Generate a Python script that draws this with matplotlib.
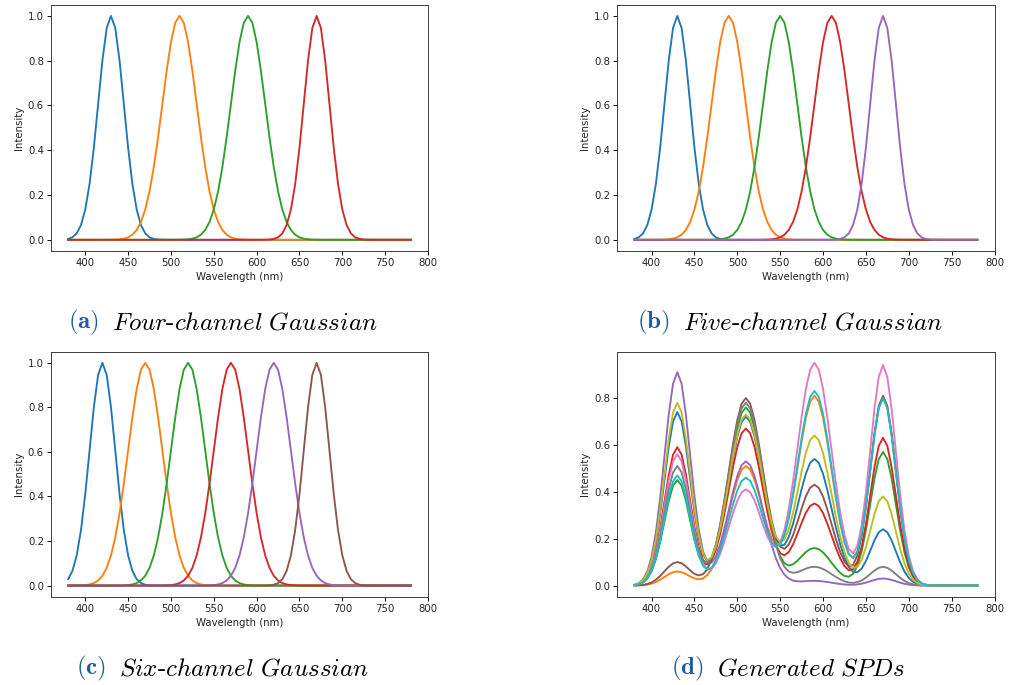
import numpy as np
import matplotlib
matplotlib.use("Agg")
import matplotlib.pyplot as plt

plt.rcParams["mathtext.fontset"] = "cm"

# Sampling grid (nm)
wavelengths = np.arange(380, 785, 5)

# Channel peak wavelengths (nm) and widths (sigma, nm)
four_centers = [430, 510, 590, 670]
four_sigmas = [15, 20, 20, 15]

five_centers = [430, 490, 550, 610, 670]
five_sigmas = [15, 20, 20, 20, 15]

six_centers = [420, 470, 520, 570, 620, 670]
six_sigmas = [15, 20, 20, 20, 20, 15]

# Generated SPDs: weight of each four-channel primary (one entry per SPD)
w430 = [0.74, 0.06, 0.45, 0.59, 0.91, 0.10, 0.56, 0.51, 0.78, 0.47]
w510 = [0.72, 0.51, 0.76, 0.67, 0.53, 0.80, 0.41, 0.78, 0.73, 0.46]
w590 = [0.54, 0.81, 0.16, 0.35, 0.02, 0.43, 0.95, 0.08, 0.64, 0.83]
w670 = [0.24, 0.80, 0.57, 0.63, 0.03, 0.81, 0.94, 0.08, 0.38, 0.80]

captions = [
    ("(a)", r"$\mathit{Four}\text{-}\mathit{channel\ Gaussian}$"),
    ("(b)", r"$\mathit{Five}\text{-}\mathit{channel\ Gaussian}$"),
    ("(c)", r"$\mathit{Six}\text{-}\mathit{channel\ Gaussian}$"),
    ("(d)", r"$\mathit{Generated\ SPDs}$"),
]


def gaussian_bank(centers, sigmas):
    c = np.asarray(centers, float)[:, None]
    s = np.asarray(sigmas, float)[:, None]
    return np.exp(-0.5 * ((wavelengths[None, :] - c) / s) ** 2)


W, H = 1014, 685
fig = plt.figure(figsize=(W / 100, H / 100), dpi=100)

scale = 0.73
lw = 1.35
fs = 10 * scale

boxes = [  # left, top, right, bottom in pixels
    (51, 4.7, 428, 251),
    (617.3, 4.7, 994.5, 251),
    (51, 351.7, 428, 596.7),
    (617.3, 351.7, 994.5, 596.7),
]
axes = []
for l, t, r, b in boxes:
    ax = fig.add_axes([l / W, 1 - b / H, (r - l) / W, (b - t) / H])
    for sp in ax.spines.values():
        sp.set_linewidth(0.9 * scale)
        sp.set_color("#333333")
    ax.tick_params(labelsize=fs, width=0.9 * scale, length=3.5 * scale,
                   pad=3.5 * scale, labelcolor="#222222")
    ax.set_xlabel("Wavelength (nm)", fontsize=fs, labelpad=4 * scale, color="#222222")
    ax.set_ylabel("Intensity", fontsize=fs, labelpad=4 * scale, color="#222222")
    ax.set_xticks(np.arange(400, 801, 50))
    axes.append(ax)

for ax, (cent, sig) in zip(axes[:3], [(four_centers, four_sigmas),
                                      (five_centers, five_sigmas),
                                      (six_centers, six_sigmas)]):
    bank = gaussian_bank(cent, sig)
    for row in bank:
        ax.plot(wavelengths, row, lw=lw)
    ax.set_xlim(360, 800)

primaries = gaussian_bank(four_centers, four_sigmas)
weights = np.array([w430, w510, w590, w670]).T
spds = weights @ primaries
for row in spds:
    axes[3].plot(wavelengths, row, lw=lw)
axes[3].set_xlim(360, 800)
axes[3].set_yticks([0.0, 0.2, 0.4, 0.6, 0.8])

# Sub-captions
fig.canvas.draw()
renderer = fig.canvas.get_renderer()
cap_pos = [(223, 322), (790, 322), (223, 668), (788, 668)]
label_color = "#1f5aa6"
gap = 13
for (tag, body), (cx, cy) in zip(captions, cap_pos):
    t1 = fig.text(0, 1 - cy / H, r"$\mathbf{" + tag + "}$", fontsize=18,
                  color=label_color, va="center", ha="left")
    t2 = fig.text(0, 1 - cy / H, body, fontsize=18, color="black",
                  va="center", ha="left")
    w1 = t1.get_window_extent(renderer).width
    w2 = t2.get_window_extent(renderer).width
    x0 = cx - (w1 + gap + w2) / 2
    t1.set_x(x0 / W)
    t2.set_x((x0 + w1 + gap) / W)

fig.savefig("out.png", dpi=100)
